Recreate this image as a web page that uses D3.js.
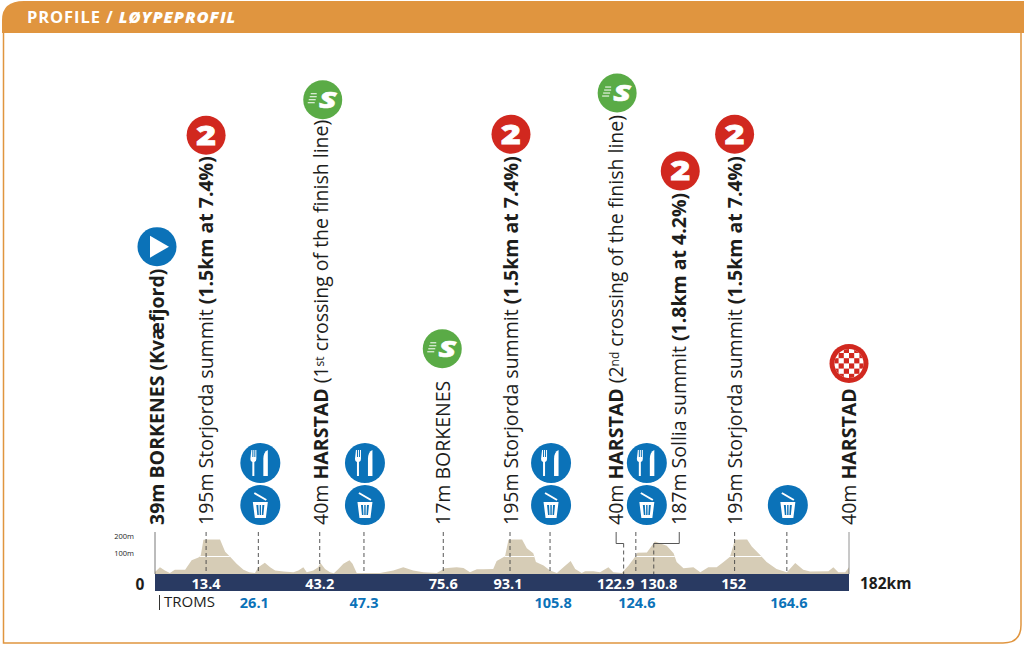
<!DOCTYPE html>
<html>
<head>
<meta charset="utf-8">
<script src="https://cdn.jsdelivr.net/npm/d3@7"></script>
<style>
  html, body { margin: 0; padding: 0; background: #fff; }
  svg { display: block; }
  text { font-family: "Open Sans", sans-serif; }
</style>
</head>
<body>
<div id="chart"></div>
<script>
// elevation profile
const profileKm = [0, 1.3, 2.6, 3.9, 5.2, 7.9, 9.6, 11.4, 12, 12.7, 14, 17, 18.4, 19.7, 21.4, 23.2, 24.7, 26.2, 27.1, 28.8, 30.2, 31.5, 33.7, 36.3, 37.6, 38.9, 39.8, 41.5, 42.8, 43.4, 44.6, 45.9, 46.9, 48.1, 49.4, 51, 51.8, 52.9, 54.6, 59, 62.5, 65.1, 67.7, 70.4, 73.9, 76, 79.1, 80.9, 82.6, 84.4, 86.1, 88.7, 89.6, 91.8, 92.7, 94.4, 96.2, 97.5, 99.2, 99.9, 101.9, 103.6, 105.4, 107.1, 109, 110.2, 111.9, 112.8, 115, 116.7, 118.9, 120.2, 122.4, 124.2, 125.9, 126.5, 129, 131.1, 134.2, 136, 136.8, 138.6, 141.2, 143, 145.1, 147.3, 149.1, 150.8, 152.1, 155.2, 156.5, 158.7, 160.4, 163, 165.7, 167.9, 170, 171.8, 176.6, 177.9, 179.2, 181, 182];
const profileElev = [12, 39, 20, 6, 24, 25, 78, 94, 106, 196, 200, 200, 127, 98, 59, 25, 10, 6, 39, 65, 39, 20, 14, 10, 20, 39, 10, 20, 39, 63, 29, 10, 4, 29, 59, 78, 59, 6, 6, 6, 20, 39, 20, 10, 6, 33, 39, 35, 10, 27, 27, 29, 74, 102, 196, 200, 200, 147, 118, 69, 49, 20, 6, 39, 74, 29, 6, 16, 16, 10, 39, 10, 6, 49, 98, 122, 123, 186, 161, 118, 69, 33, 39, 10, 39, 39, 69, 98, 196, 200, 157, 108, 69, 29, 10, 63, 24, 14, 16, 39, 10, 10, 39];

// route points: where the tick stands on the km scale, what the label says
const pointKm = [0, 13.4, 43.2, 75.6, 93.1, 122.9, 130.8, 152, 182];
const pointBarLabels = ["", "13.4", "43.2", "75.6", "93.1", "122.9", "130.8", "152", ""];
const pointIcons = ["start", "kom", "sprint", "sprint", "kom", "sprint", "kom", "kom", "finish"];
const pointTexts = [
  [["39m BORKENES (Kvæfjord)", 700]],
  [["195m Storjorda summit ", 400], ["(1.5km at 7.4%)", 700]],
  [["40m ", 400], ["HARSTAD ", 700], ["(1", 400], ["st", 400, true], [" crossing of the finish line)", 400]],
  [["17m BORKENES", 400]],
  [["195m Storjorda summit ", 400], ["(1.5km at 7.4%)", 700]],
  [["40m ", 400], ["HARSTAD ", 700], ["(2", 400], ["nd", 400, true], [" crossing of the finish line)", 400]],
  [["187m Sollia summit ", 400], ["(1.8km at 4.2%)", 700]],
  [["195m Storjorda summit ", 400], ["(1.5km at 7.4%)", 700]],
  [["40m ", 400], ["HARSTAD", 700]]
];

// feed and waste zones
const zoneKm = [27.1, 54.8, 103.6, 126.1, 165.7];
const zoneLabels = ["26.1", "47.3", "105.8", "124.6", "164.6"];
const zoneHasFeed = [true, true, true, true, false];

const elevTicks = [100, 200];

// layout, px
const width = 1024, height = 646;
const barLeft = 155, barRight = 849, baseY = 574, barBottom = 591;
const labelBase = 525, tickTop = 532, iconR = 19.5;
const labelShift = [2, 0, 1, 0, 1, -7.5, 25.5, 0, 0];
const iconGap = [22, 21, 20, 32, 22, 22, 22, 22, 25];
const iconShift = [0, 0, 2, -1, 0, 1, 1, 0, 0];
const barLabelShift = [0, 0, 0, 0, -2, -8, 5, -1, 0];
const zoneLabelShift = [-4, 0, 3, 1, 2];
const zoneIconShift = [2, 1, 1, 11, 1];
const feedY = 463, binY = 505;

const orange = "#e0953f", blue = "#0b72b8", red = "#d1281f", green = "#5aab46",
  navy = "#293a62", sand = "#d6ccb6", ink = "#1d1d1b";

const x = d3.scaleLinear().domain([0, 182]).range([barLeft, barRight]);
const y = d3.scaleLinear().domain([0, 200]).range([baseY, baseY - 35]);

const svg = d3.select("#chart").append("svg").attr("width", width).attr("height", height);

// frame and header
svg.append("path")
  .attr("d", "M3.5,20 V643 H1003 Q1021,643 1021,625 V20")
  .attr("fill", "#fff").attr("stroke", orange).attr("stroke-width", 1.5);
svg.append("path")
  .attr("d", "M2,33 V20 Q2,1 24,1 H1024 V33 Z")
  .attr("fill", orange);
const head = svg.append("text").attr("x", 27).attr("y", 22.5).attr("fill", "#fff")
  .attr("font-size", 16.5).attr("font-weight", 700).attr("letter-spacing", 0.9);
head.append("tspan").text("PROFILE / ");
head.append("tspan").attr("font-style", "italic").attr("font-weight", 800).text("LØYPEPROFIL");

// elevation area
const area = d3.area()
  .x((d, i) => x(profileKm[i]))
  .y0(y(0))
  .y1(d => y(d));
const defs = svg.append("defs");
defs.append("clipPath").attr("id", "profileClip").append("path").attr("d", area(profileElev));
svg.append("path").attr("d", area(profileElev)).attr("fill", sand);
svg.append("g").attr("clip-path", "url(#profileClip)")
  .selectAll("line").data(elevTicks).join("line")
  .attr("x1", barLeft).attr("x2", barRight)
  .attr("y1", d => y(d)).attr("y2", d => y(d))
  .attr("stroke", "#fff").attr("stroke-width", 1.2);

// elevation axis
const yAxis = svg.append("g")
  .attr("transform", "translate(" + (barLeft - 21) + ",0)")
  .call(d3.axisLeft(y).tickValues(elevTicks).tickSize(0).tickPadding(0).tickFormat(d => d + "m"));
yAxis.select(".domain").remove();
yAxis.selectAll("text")
  .attr("font-family", "Open Sans").attr("font-size", 7.5).attr("fill", ink)
  .attr("dy", "-0.1em");
svg.append("line").attr("x1", barLeft).attr("x2", barLeft).attr("y1", tickTop).attr("y2", baseY)
  .attr("stroke", "#555").attr("stroke-width", 0.8);
svg.append("line").attr("x1", barRight).attr("x2", barRight).attr("y1", tickTop).attr("y2", baseY)
  .attr("stroke", "#777").attr("stroke-width", 0.8);

// km bar
svg.append("rect").attr("x", barLeft).attr("y", baseY)
  .attr("width", barRight - barLeft).attr("height", barBottom - baseY).attr("fill", navy);
svg.append("text").attr("x", 140).attr("y", 589.5).attr("text-anchor", "middle")
  .attr("font-size", 15.5).attr("font-weight", 700).attr("fill", ink).text("0");
svg.append("text").attr("x", 860).attr("y", 589)
  .attr("font-size", 15.5).attr("font-weight", 700).attr("fill", ink).text("182km");
svg.append("line").attr("x1", 159.5).attr("x2", 159.5).attr("y1", 595).attr("y2", 610)
  .attr("stroke", ink).attr("stroke-width", 0.9);
svg.append("text").attr("x", 164).attr("y", 606.5)
  .attr("font-size", 15).attr("fill", ink).text("TROMS");

svg.append("g").selectAll("text").data(pointBarLabels).join("text")
  .attr("x", (d, i) => x(pointKm[i]) + barLabelShift[i])
  .attr("y", 588.5).attr("text-anchor", "middle")
  .attr("font-size", 14.5).attr("font-weight", 700).attr("fill", "#fff")
  .text(d => d);
svg.append("g").selectAll("text").data(zoneLabels).join("text")
  .attr("x", (d, i) => x(zoneKm[i]) + zoneLabelShift[i])
  .attr("y", 608).attr("text-anchor", "middle")
  .attr("font-size", 14.5).attr("font-weight", 700).attr("fill", blue)
  .text(d => d);

// dashed ticks
function dashTick(xPos, top) {
  svg.append("line").attr("x1", xPos).attr("x2", xPos).attr("y1", top).attr("y2", baseY)
    .attr("stroke", "#444").attr("stroke-width", 0.9).attr("stroke-dasharray", "4,3");
}
pointKm.forEach((km, i) => {
  if (i === 0 || i === pointKm.length - 1) return;
  const px = x(km), lx = px + labelShift[i];
  if (Math.abs(labelShift[i]) > 5) {
    // elbow from the label down to the point on the route
    const elbow = 543.5;
    svg.append("path").attr("d", "M" + lx + "," + tickTop + " V" + elbow + " H" + px)
      .attr("fill", "none").attr("stroke", "#444").attr("stroke-width", 0.9);
    dashTick(px, elbow);
  } else {
    dashTick(px, tickTop);
  }
});
zoneKm.forEach(km => dashTick(x(km), tickTop));

// vertical labels, icons sit above the end of each
function drawIcon(kind, cx, cy) {
  const g = svg.append("g").attr("transform", "translate(" + cx + "," + cy + ")");
  if (kind === "start") {
    g.append("circle").attr("r", iconR).attr("fill", blue);
    g.append("path").attr("d", "M-7,-11 L12,0 L-7,11 Z").attr("fill", "#fff");
  } else if (kind === "kom") {
    g.append("circle").attr("r", iconR).attr("fill", red);
    g.append("text").attr("transform", "translate(0,9.5) scale(1.25,1)").attr("text-anchor", "middle")
      .attr("font-size", 27).attr("font-weight", 800).attr("fill", "#fff")
      .attr("stroke", "#fff").attr("stroke-width", 0.8)
      .text("2");
  } else if (kind === "sprint") {
    g.append("circle").attr("r", iconR).attr("fill", green);
    g.append("text").attr("transform", "translate(5,8) scale(1.4,1)").attr("text-anchor", "middle")
      .attr("font-size", 23).attr("font-weight", 800).attr("font-style", "italic")
      .attr("fill", "#fff").attr("stroke", "#fff").attr("stroke-width", 0.6)
      .text("S");
    g.selectAll("line").data([[-12, -6, -6], [-13, -3, -6], [-14, 0, -7], [-15, 3, -8]]).join("line")
      .attr("x1", d => d[0]).attr("x2", d => d[2]).attr("y1", d => d[1]).attr("y2", d => d[1])
      .attr("stroke", "#fff").attr("stroke-width", 1);
  } else if (kind === "finish") {
    g.append("circle").attr("r", iconR).attr("fill", red);
    g.append("circle").attr("r", 14.5).attr("fill", "#fff");
    const clipId = "flagClip";
    g.append("clipPath").attr("id", clipId).append("circle").attr("r", 14.5);
    const cells = d3.range(-3, 3);
    const squares = g.append("g").attr("clip-path", "url(#" + clipId + ")");
    cells.forEach(a => cells.forEach(b => {
      if ((a + b + 6) % 2 === 0) {
        squares.append("rect").attr("x", a * 5.2).attr("y", b * 5.2)
          .attr("width", 5.2).attr("height", 5.2).attr("fill", red);
      }
    }));
  } else if (kind === "feed") {
    g.append("circle").attr("r", iconR + 0.5).attr("fill", blue);
    g.append("path").attr("fill", "#fff")
      .attr("d", "M-9,-13 h1 v7 h1 v-7 h1 v7 h1 v-7 h1 v9 q0,2.500 -2,3 v14 h-2 v-14 q-2,-0.500 -2,-3 Z");
    g.append("path").attr("fill", "#fff")
      .attr("d", "M3,13 V-4 Q3,-11 7.500,-13 V13 Z");
  } else if (kind === "bin") {
    g.append("circle").attr("r", iconR + 0.5).attr("fill", blue);
    g.append("path").attr("fill", "#fff").attr("fill-rule", "evenodd")
      .attr("d", "M-7.500,-3 H7.500 L5.500,13 H-5.500 Z M-4,0 L-3,10 H-1.500 L-2,0 Z M-0.700,0 V10 H0.700 V0 Z M2,0 L1.500,10 H3 L4,0 Z");
    g.append("path").attr("fill", "none").attr("stroke", "#fff").attr("stroke-width", 2)
      .attr("d", "M-6,-12 L6,-5");
  }
}

pointTexts.forEach((parts, i) => {
  const lx = x(pointKm[i]) + labelShift[i];
  const t = svg.append("text")
    .attr("transform", "translate(" + (lx + 7) + "," + labelBase + ") rotate(-90)")
    .attr("font-size", 19.5).attr("fill", ink);
  parts.forEach(p => {
    const s = t.append("tspan").attr("font-weight", p[1]).text(p[0]);
    if (p[2]) s.attr("font-size", 12).attr("baseline-shift", "35%");
  });
  const len = t.node().getComputedTextLength();
  drawIcon(pointIcons[i], lx + iconShift[i], labelBase - len - iconGap[i]);
});

zoneKm.forEach((km, i) => {
  const cx = x(km) + zoneIconShift[i];
  if (zoneHasFeed[i]) drawIcon("feed", cx, feedY);
  drawIcon("bin", cx, binY);
});
</script>
</body>
</html>
